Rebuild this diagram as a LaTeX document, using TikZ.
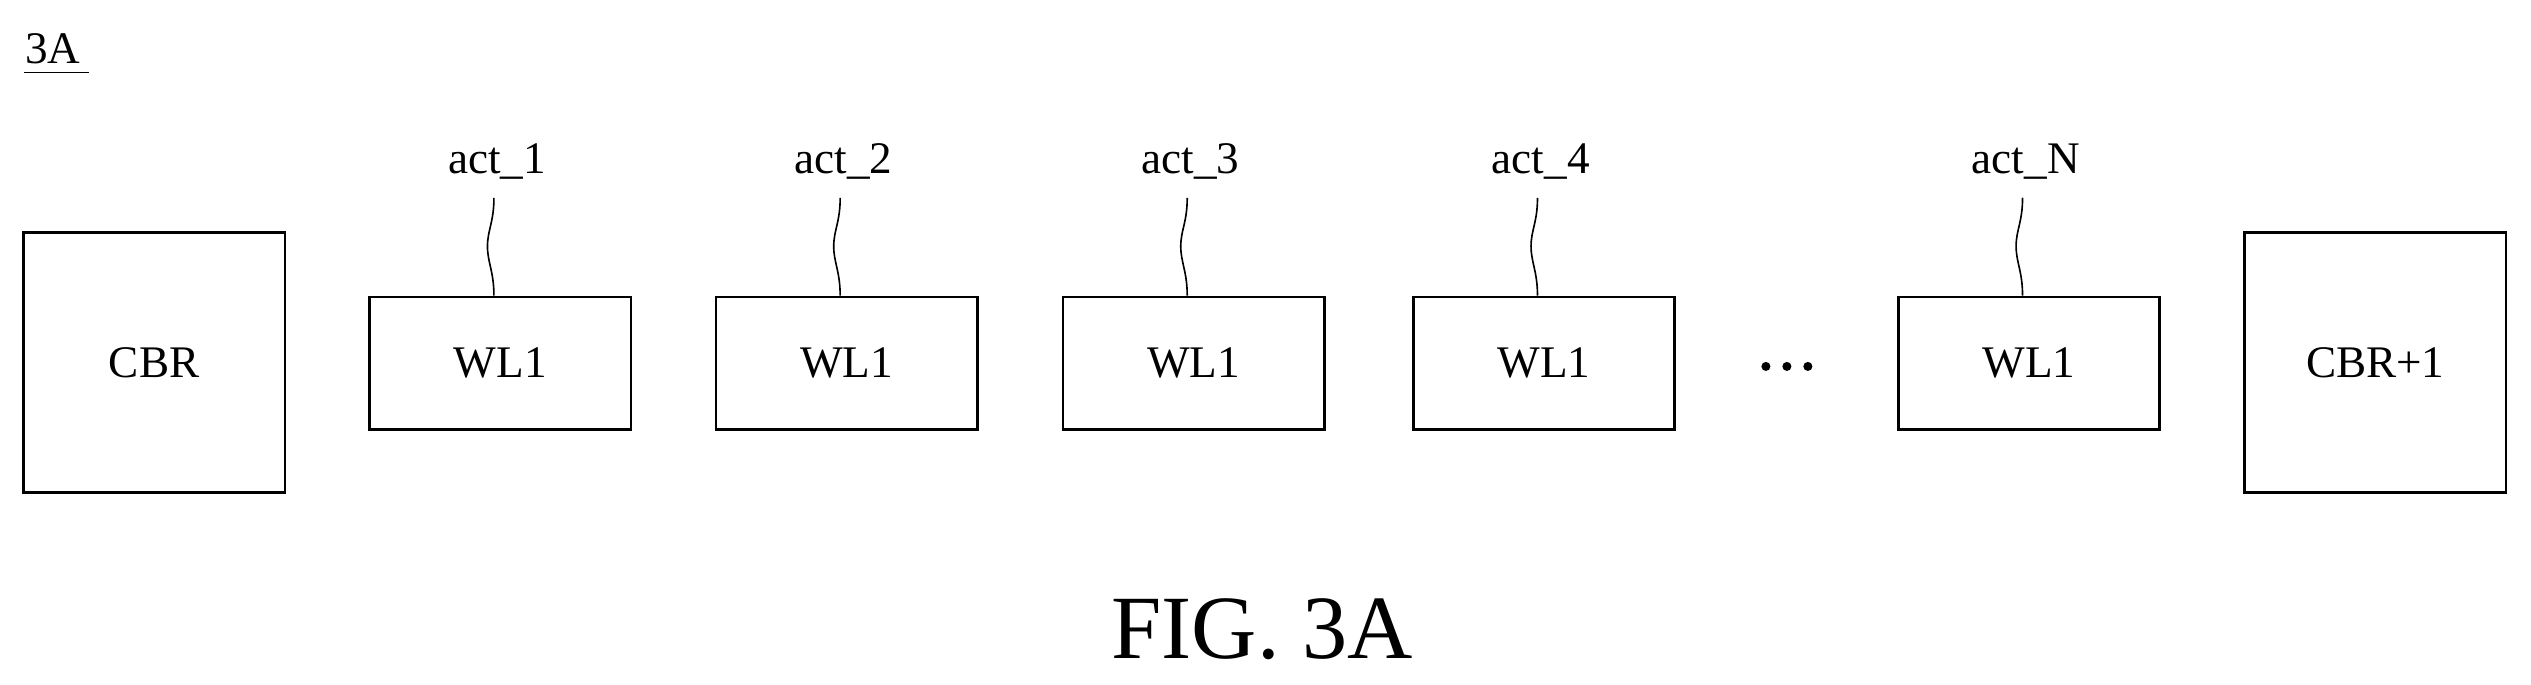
\documentclass[tikz,border=0pt]{standalone}
\usepackage{fontspec}
\setmainfont{Liberation Serif}
\usetikzlibrary{positioning}
\begin{document}
\begin{tikzpicture}[x=1pt,y=-1pt,
	blk/.style={draw, line width=1.6pt, minimum width=162pt, minimum height=82pt, font=\fontsize{28}{30}\selectfont},
	sq/.style={draw, line width=1.6pt, minimum width=162pt, minimum height=161pt, font=\fontsize{28}{30}\selectfont},
	lbl/.style={font=\fontsize{28}{30}\selectfont}]
	\useasboundingbox (0,0) rectangle (1568,424);

	\node[lbl, anchor=west] (fig) at (12,30) {3A};
	\draw[line width=0.8pt] (fig.south west) ++(3,2) -- ++(40,0);

	\node[sq] (cbr) at (95.5,224.5) {CBR};
	\node[sq] (cbrn) at (1471.5,224.5) {CBR+1};

	\foreach \i/\x/\t in {1/310/1, 2/524.5/2, 3/739.5/3, 4/956.5/4, 5/1257/N} {
		\node[blk] (wl\i) at (\x,225) {WL1};
		\node[lbl] (act\i) at (\x-2,100) {act\_\t};
		\draw[line width=1pt] (act\i.south) ++(-2,8) coordinate (top\i)
			.. controls ++(0,15) and ++(0,-10) .. ++(-4,30)
			.. controls ++(0,10) and ++(0,-15) .. (wl\i.north -| top\i);
	}
	\node (dots) at (1107,227) {};
	\foreach \dx in {-13,0,13}
		\fill ([xshift=\dx pt]dots.center) circle (2.8pt);

	\node[font=\fontsize{56}{60}\selectfont] (cap) at (782,390) {FIG. 3A};
\end{tikzpicture}
\end{document}
